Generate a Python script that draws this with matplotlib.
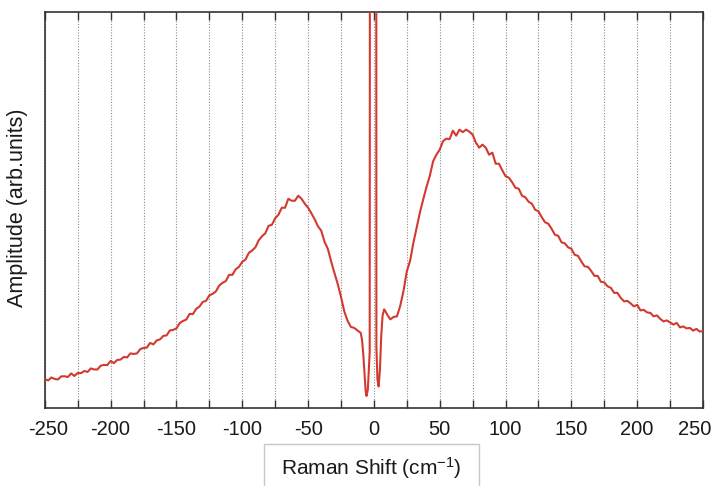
import matplotlib
matplotlib.use("Agg")
import matplotlib.pyplot as plt
from matplotlib.patches import Rectangle
from matplotlib.transforms import ScaledTranslation

plt.rcParams['font.family'] = ['Liberation Sans', 'DejaVu Sans']
plt.rcParams['mathtext.fontset'] = 'custom'
plt.rcParams['mathtext.rm'] = 'Liberation Sans'
plt.rcParams['mathtext.default'] = 'regular'

# ---- data (Raman shift in cm^-1, amplitude in arbitrary units) ----
shift_left = [
    -250, -247.5, -245, -242.5, -240, -237.5, -235, -232.5, -230, -227.5,
    -225, -222.5, -220, -217.5, -215, -212.5, -210, -207.5, -205, -202.5,
    -200, -197.5, -195, -192.5, -190, -187.5, -185, -182.5, -180, -177.5,
    -175, -172.5, -170, -167.5, -165, -162.5, -160, -157.5, -155, -152.5,
    -150, -147.5, -145, -142.5, -140, -137.5, -135, -132.5, -130, -127.5,
    -125, -122.5, -120, -117.5, -115, -112.5, -110, -107.5, -105, -102.5,
    -100, -97.5, -95, -92.5, -90, -87.5, -85, -82.5, -80, -77.5,
    -75, -72.5, -70, -67.5, -65, -62.5, -60, -57.5, -55, -52.5,
    -50, -47.5, -45, -42.5, -40, -37.5, -35, -32.5, -30, -27.5,
    -25, -22.5, -20, -17.5, -15, -12.5, -10, -9, -8, -7, -6.3, -5.6, -4.6, -3.2,
]
amp_left = [
    28.5, 27, 30, 28.5, 28, 31.1, 31.2, 30.4, 34, 31.5,
    34.5, 34.3, 36.5, 35.5, 39, 38, 38, 41.8, 42.5, 42.3,
    46.5, 44.3, 47.5, 47.8, 50.5, 50, 54, 53.5, 54, 58.3,
    59.5, 59.8, 64.5, 63, 67, 68, 71.5, 72, 77, 77.5,
    79, 84.3, 86.5, 87.8, 93.5, 93.3, 98.5, 100.8, 105.5, 106.5,
    112, 113.5, 116, 121.8, 124.5, 126.3, 132.5, 132.5, 138, 140.5,
    145.5, 147.8, 154.5, 156.8, 160, 167, 171, 174, 181.5, 182.5,
    189, 192.5, 199.5, 199.5, 208.5, 206.5, 206.5, 211.5, 208.5, 203.5,
    199.5, 194, 188, 181, 176.5, 165.5, 158.5, 146, 134.5, 123.5,
    110.5, 96, 86.5, 80.5, 79.5, 77, 74.5, 67.5, 52, 32, 17, 11.5, 18, 55,
]

# Rayleigh (laser) line, clipped at the top of the plot
shift_laser = [-2.1, 1.3]
amp_laser = [3000, 3000]

shift_right = [
    1.9, 2.7, 3.6, 4.6, 5.6, 6.6, 7.8, 8.8,
    10, 12.5, 15, 17.5, 20, 22.5, 25, 27.5, 30, 32.5,
    35, 37.5, 40, 42.5, 45, 47.5, 50, 52.5, 55, 57.5,
    60, 62.5, 65, 67.5, 70, 72.5, 75, 77.5, 80, 82.5,
    85, 87.5, 90, 92.5, 95, 97.5, 100, 102.5, 105, 107.5,
    110, 112.5, 115, 117.5, 120, 122.5, 125, 127.5, 130, 132.5,
    135, 137.5, 140, 142.5, 145, 147.5, 150, 152.5, 155, 157.5,
    160, 162.5, 165, 167.5, 170, 172.5, 175, 177.5, 180, 182.5,
    185, 187.5, 190, 192.5, 195, 197.5, 200, 202.5, 205, 207.5,
    210, 212.5, 215, 217.5, 220, 222.5, 225, 227.5, 230, 232.5,
    235, 237.5, 240, 242.5, 245, 247.5, 250,
]
amp_right = [
    60, 28, 21, 38, 72, 92, 98, 96,
    93, 88, 90.5, 91, 101.5, 116.5, 136, 146.5, 164.5, 180,
    195, 208, 220.5, 231.5, 246, 252.5, 257.5, 266, 268.5, 268,
    276.5, 271.5, 277.5, 275, 277.5, 275.5, 272.5, 264.5, 259.5, 262.5,
    259.5, 252.5, 254.5, 243.5, 243.5, 237, 231, 229.5, 225, 219.5,
    218.5, 211.5, 210, 205.5, 203.5, 197.5, 196, 190, 185, 183.5,
    178.5, 172.5, 171.5, 165, 164, 160, 158.5, 152.5, 151.5, 146,
    141, 140.5, 136.5, 131.5, 131.5, 125.5, 125, 121, 119.5, 114.5,
    114.5, 109.5, 106, 106.5, 104, 101, 102.5, 97, 97.5, 95,
    94.5, 91, 92, 88.5, 86, 87, 85, 82.8, 84.5, 80,
    81, 79, 79.5, 76.8, 78.5, 75.8, 76.5,
]

shift = shift_left + shift_laser + shift_right
amplitude = amp_left + amp_laser + amp_right

tick_values = list(range(-250, 251, 25))
tick_labels = [str(v) if v % 50 == 0 else '' for v in tick_values]

# ---- figure ----
W, H = 717, 486
fig = plt.figure(figsize=(W / 100, H / 100), dpi=100)
ax = fig.add_axes([44.8 / W, 78.5 / H, (703 - 44.8) / W, (407.5 - 12) / H])

ax.plot(shift, amplitude, color='#d23a30', lw=1.5, zorder=3)

ax.set_xlim(-250, 250)
ax.set_ylim(0, 395)
ax.set_xticks(tick_values)
ax.set_xticklabels(tick_labels, fontsize=14.5, color='#1a1a1a')
ax.set_yticks([])
ax.tick_params(axis='x', direction='in', length=6, width=1, color='#333333',
               top=True, bottom=True, pad=9)
ax.grid(axis='x', linestyle=(0, (1, 1.5)), color='#8a8a8a', lw=0.8, zorder=1)
for s in ax.spines.values():
    s.set_color('#333333')
    s.set_linewidth(1.2)

# nudge the end labels slightly inward, as in the reference
labels = ax.get_xticklabels()
labels[-1].set_transform(labels[-1].get_transform() + ScaledTranslation(-8 / 100, 0, fig.dpi_scale_trans))
labels[0].set_transform(labels[0].get_transform() + ScaledTranslation(3 / 100, 0, fig.dpi_scale_trans))

# x-axis label inside a light box
fig.patches.append(Rectangle((264 / W, -0.05), (479 - 264) / W, (486 - 444) / H + 0.05,
                             transform=fig.transFigure, fill=False,
                             edgecolor='#c8c8c8', lw=1.0))
fig.text(371 / W, 1 - 468 / H, 'Raman Shift (cm$^{-1}$)', fontsize=15,
         ha='center', va='center', color='#1a1a1a')

fig.text(18 / W, 1 - 208 / H, 'Amplitude (arb.units)', fontsize=15.5,
         rotation=90, ha='center', va='center', color='#1a1a1a')

fig.savefig('out.png', dpi=100)
